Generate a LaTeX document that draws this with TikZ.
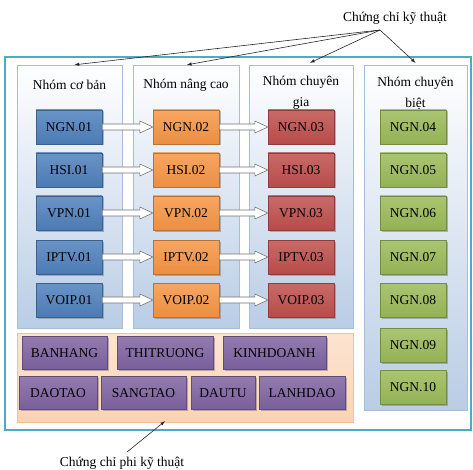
\documentclass[tikz,border=0pt]{standalone}
\usepackage{fontspec}
\setmainfont{Liberation Serif}
\usetikzlibrary{arrows}
\usetikzlibrary{calc}
\usetikzlibrary{shadows}
\definecolor{frameteal}{HTML}{4BACC6}
\definecolor{panelblue}{HTML}{B9CDE5}
\definecolor{panelline}{HTML}{A7BEDB}
\definecolor{peach}{HTML}{FBD3B3}
\definecolor{peachline}{HTML}{F9BF8F}
\definecolor{certblue}{HTML}{4F81BD}
\definecolor{certorange}{HTML}{F79646}
\definecolor{certred}{HTML}{C0504D}
\definecolor{certgreen}{HTML}{9BBB59}
\definecolor{certpurple}{HTML}{8064A2}
\tikzset{panel/.style = {draw=panelline, top color=white, bottom color=panelblue, inner sep=0}}
\tikzset{cert/.style = {draw=#1!75!black, top color=#1!85!white, middle color=#1!60!white, bottom color=#1!95!black,
    minimum width=66pt, minimum height=34pt, inner sep=0, font=\fontsize{13.5}{15}\selectfont,
    drop shadow={shadow xshift=1.5pt, shadow yshift=-1.5pt, opacity=0.55}}}
\tikzset{soft/.style = {cert=certpurple, minimum height=33pt}}
\tikzset{grouptitle/.style = {align=center, font=\fontsize{13.5}{21}\selectfont}}
\tikzset{hollow/.style = {draw=black!55, fill=white, line width=0.6pt,
    to path={let \p1=(\tikztostart), \p2=(\tikztotarget) in
      (\x1,\y1+3pt) -- (\x2-13pt,\y1+3pt) -- (\x2-13pt,\y1+6pt) -- (\x2,\y1)
      -- (\x2-13pt,\y1-6pt) -- (\x2-13pt,\y1-3pt) -- (\x1,\y1-3pt) -- cycle}}}
\tikzset{pointer/.style = {draw=black!85, line width=0.6pt, -latex}}

\begin{document}
\begin{tikzpicture}[x=1pt, y=-1pt]
    \useasboundingbox (0, 0) rectangle (473, 470);

    % frame and panels
    \draw [frameteal, line width=2.5pt, fill=white] (5, 57) rectangle (471, 430);
    \node [panel, minimum width=105pt, minimum height=263pt] (p1) at (69.5, 196.5) {};
    \node [panel, minimum width=106pt, minimum height=263pt] (p2) at (186, 196.5) {};
    \node [panel, minimum width=104pt, minimum height=263pt] (p3) at (301, 196.5) {};
    \node [panel, minimum width=103pt, minimum height=345pt] (p4) at (415.5, 237.5) {};
    \node [draw=peachline, top color=peach!60, middle color=white!60!peach, bottom color=peach,
      minimum width=336pt, minimum height=89pt, inner sep=0] (p5) at (185, 377.5) {};

    \node [grouptitle] (t1) at (69.5, 85) {Nhóm cơ bản};
    \node [grouptitle] (t2) at (186, 85) {Nhóm nâng cao};
    \node [grouptitle] (t3) at (301, 93) {Nhóm chuyên\\gia};
    \node [grouptitle] (t4) at (415.5, 93) {Nhóm chuyên\\biệt};

    % basic group
    \node [cert=certblue] (ngn1) at (69, 127) {NGN.01};
    \node [cert=certblue] (hsi1) at (69, 170) {HSI.01};
    \node [cert=certblue] (vpn1) at (69, 213) {VPN.01};
    \node [cert=certblue] (iptv1) at (69, 257) {IPTV.01};
    \node [cert=certblue] (voip1) at (69, 300) {VOIP.01};

    % advanced group
    \node [cert=certorange] (ngn2) at (186, 127) {NGN.02};
    \node [cert=certorange] (hsi2) at (186, 170) {HSI.02};
    \node [cert=certorange] (vpn2) at (186, 213) {VPN.02};
    \node [cert=certorange] (iptv2) at (186, 257) {IPTV.02};
    \node [cert=certorange] (voip2) at (186, 300) {VOIP.02};

    % expert group
    \node [cert=certred] (ngn3) at (301, 127) {NGN.03};
    \node [cert=certred] (hsi3) at (301, 170) {HSI.03};
    \node [cert=certred] (vpn3) at (301, 213) {VPN.03};
    \node [cert=certred] (iptv3) at (301, 257) {IPTV.03};
    \node [cert=certred] (voip3) at (301, 300) {VOIP.03};

    % special group
    \node [cert=certgreen] (ngn4) at (413, 127) {NGN.04};
    \node [cert=certgreen] (ngn5) at (413, 170) {NGN.05};
    \node [cert=certgreen] (ngn6) at (413, 213) {NGN.06};
    \node [cert=certgreen] (ngn7) at (413, 257) {NGN.07};
    \node [cert=certgreen] (ngn8) at (413, 300) {NGN.08};
    \node [cert=certgreen] (ngn9) at (413, 345) {NGN.09};
    \node [cert=certgreen] (ngn10) at (413, 387) {NGN.10};

    % non-technical
    \node [soft, minimum width=85pt] (banhang) at (64.5, 353) {BANHANG};
    \node [soft, minimum width=96pt] (thitruong) at (165, 353) {THITRUONG};
    \node [soft, minimum width=103pt] (kinhdoanh) at (274.5, 353) {KINHDOANH};
    \node [soft, minimum width=78pt] (daotao) at (58, 393) {DAOTAO};
    \node [soft, minimum width=85pt] (sangtao) at (143.5, 393) {SANGTAO};
    \node [soft, minimum width=64pt] (dautu) at (223, 393) {DAUTU};
    \node [soft, minimum width=86pt] (lanhdao) at (302, 393) {LANHDAO};

    \path [hollow] (ngn1.east) to (ngn2.west);
    \path [hollow] (hsi1.east) to (hsi2.west);
    \path [hollow] (vpn1.east) to (vpn2.west);
    \path [hollow] (iptv1.east) to (iptv2.west);
    \path [hollow] (voip1.east) to (voip2.west);
    \path [hollow] (ngn2.east) to (ngn3.west);
    \path [hollow] (hsi2.east) to (hsi3.west);
    \path [hollow] (vpn2.east) to (vpn3.west);
    \path [hollow] (iptv2.east) to (iptv3.west);
    \path [hollow] (voip2.east) to (voip3.west);

    % labels
    \node [font=\fontsize{13.5}{15}\selectfont] (tech) at (395, 18) {Chứng chỉ kỹ thuật};
    \coordinate (hub) at (380, 30);
    \draw [pointer] (hub) -- ($(p1.north)+(5, 0)$);
    \draw [pointer] (hub) -- ($(p2.north)+(1, 0)$);
    \draw [pointer] (hub) -- ($(p3.north)+(9, -2)$);
    \draw [pointer] (hub) -- ($(p4.north)+(0, -2)$);

    \node [font=\fontsize{13.5}{15}\selectfont] (nontech) at (122, 463) {Chứng chỉ phi kỹ thuật};
    \coordinate (nt) at (127, 452);
    \draw [pointer] (nt) -- ($(p5.south)+(-20, -1)$);

  \end{tikzpicture}
\end{document}
